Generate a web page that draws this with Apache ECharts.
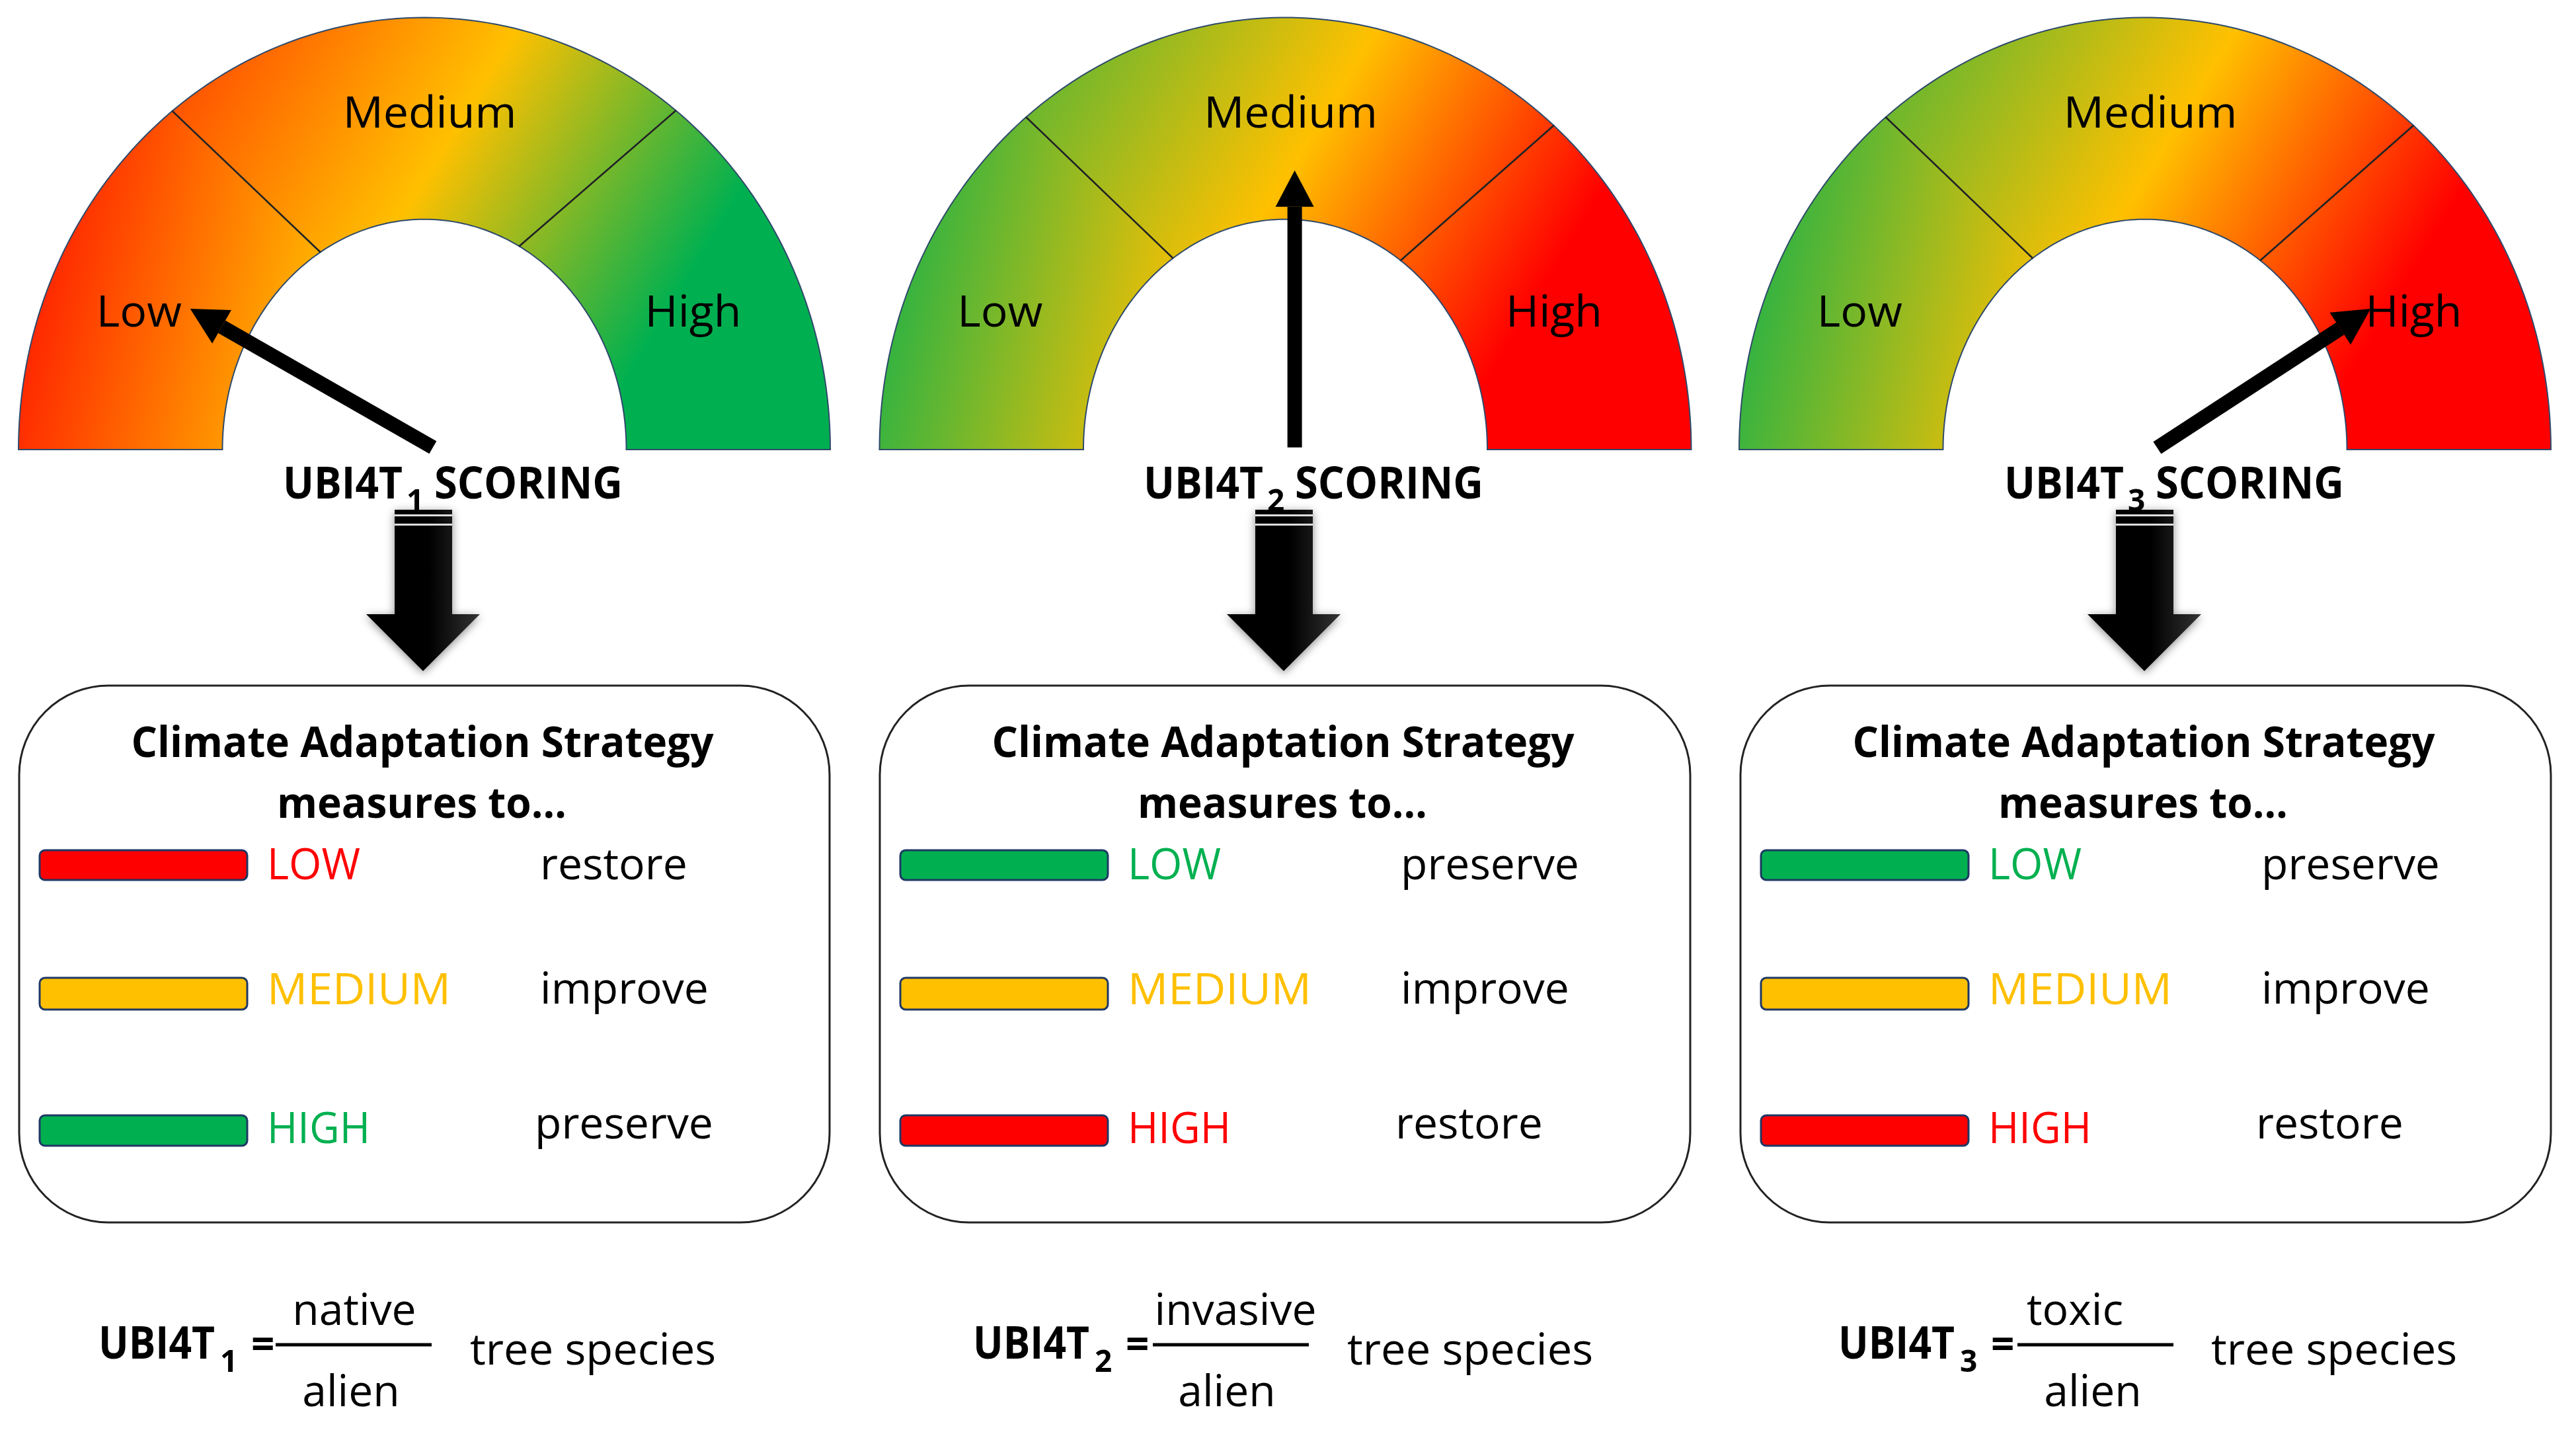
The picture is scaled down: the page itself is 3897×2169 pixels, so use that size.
<!DOCTYPE html>
<html>
<head>
<meta charset="utf-8">
<style>html,body{margin:0;padding:0;background:#fff}#chart{width:3897px;height:2169px}</style>
<script src="https://cdn.jsdelivr.net/npm/echarts@6/dist/echarts.min.js"></script>
</head>
<body>
<div id="chart"></div>
<script>
// values
const scoreLabels = ['Low', 'Medium', 'High'];
const scoreLabelX = [-0.703, 0.013, 0.662];
const scoreLabelY = [0.313, 0.774, 0.313];
// divider angles on the half-ellipse, degrees, [left, right]
const dividerOuter = [[128.4, 51.7], [129.7, 48.6], [129.7, 48.6]];
const dividerInner = [[121, 62], [123.8, 55.2], [123.8, 55.2]];
// needle tail and tip in gauge units
const needleTailX = [0.021, 0.023, 0.03];
const needleTailY = [0.005, 0.005, 0.004];
const needleTipX = [-0.577, 0.023, 0.556];
const needleTipY = [0.326, 0.646, 0.326];
const indexNames = ['UBI4T', 'UBI4T', 'UBI4T'];
const indexSubs = ['1', '2', '3'];
const strategyTiers = ['LOW', 'MEDIUM', 'HIGH'];
const measures = [
  ['restore', 'improve', 'preserve'],
  ['preserve', 'improve', 'restore'],
  ['preserve', 'improve', 'restore']
];
const numerators = ['native', 'invasive', 'toxic'];
const denominator = 'alien';

// layout and styles
const RED = '#FF0000', AMBER = '#FFC000', GREEN = '#00B050', NAVY = '#1F3864';
const measureColor = { restore: RED, improve: AMBER, preserve: GREEN };
const FONT = '"Open Sans"';
const gaugeCenter = [642, 1944.5, 3245];
const gaugeRx = 614, gaugeTop = 26.5, gaugeH = 653.5;
const innerRx = 0.4976, innerRy = 0.533;
const panelDx = [0, 1302, 2604];
const formulaLeft = [149, 1472, 2781];
const fracLeft = [417, 1744, 3052];
const numCenter = [536, 1869, 3139];
const denCenter = [531, 1856, 3166];
const treeLeft = [711, 2038, 3345];
const bandGradients = [[RED, AMBER, GREEN], [GREEN, AMBER, RED], [GREEN, AMBER, RED]];
const tierWidth = [141, 278, 156];

const chart = echarts.init(document.getElementById('chart'));
const measureCtx = document.createElement('canvas').getContext('2d');

function text(str, x, y, size, opts) {
  opts = opts || {};
  const weight = opts.bold ? 'bold' : 'normal';
  let scaleX = 1;
  if (opts.width) {
    measureCtx.font = weight + ' ' + size + 'px ' + FONT;
    scaleX = opts.width / measureCtx.measureText(str).width;
  }
  return {
    type: 'text', x: x, y: y, z: 20, scaleX: scaleX,
    style: {
      text: str, fontFamily: 'Open Sans', fontSize: size, fontWeight: weight,
      fill: opts.fill || '#000', align: opts.align || 'left', verticalAlign: 'middle'
    }
  };
}

function blockArrow(dx) {
  const points = [[597, 771], [684, 771], [684, 929], [726, 929], [640, 1015], [554, 929], [597, 929]]
    .map(function (p) { return [p[0] + dx, p[1]]; });
  return [
    {
      type: 'polygon', z: 5, shape: { points: points },
      style: {
        fill: new echarts.graphic.LinearGradient(0, 0, 1, 0, [
          { offset: 0, color: '#000' }, { offset: 0.55, color: '#000' }, { offset: 1, color: '#333' }
        ]),
        shadowBlur: 14, shadowColor: 'rgba(0,0,0,0.45)', shadowOffsetY: 3
      }
    },
    { type: 'rect', z: 6, shape: { x: 597 + dx, y: 778, width: 87, height: 3 }, style: { fill: '#ddd' } },
    { type: 'rect', z: 6, shape: { x: 597 + dx, y: 792, width: 87, height: 3 }, style: { fill: '#ddd' } }
  ];
}

const elements = [];
const swatchY = [1286, 1479, 1687];
const swatchH = [45, 48, 46];
const tierY = [1311, 1500, 1710];
const measureY = [1311, 1499, 1703];
const measureX = [817, 817, 809];

indexNames.forEach(function (name, p) {
  const dx = panelDx[p];
  // scoring caption
  elements.push(text(name, 428 + dx, 735, 66, { bold: true, width: 181 }));
  elements.push(text(indexSubs[p], 615 + dx, 760, 46, { bold: true }));
  elements.push(text('SCORING', 657 + dx, 735, 66, { bold: true, width: 285 }));
  blockArrow(dx).forEach(function (el) { elements.push(el); });

  // strategy box
  elements.push({
    type: 'rect', z: 1,
    shape: { x: 29 + dx, y: 1037, width: 1226, height: 812, r: 135 },
    style: { fill: '#fff', stroke: '#222', lineWidth: 3 }
  });
  elements.push(text('Climate Adaptation Strategy', 639 + dx, 1127, 64, { bold: true, align: 'center', width: 881 }));
  elements.push(text('measures to…', 638 + dx, 1219, 64, { bold: true, align: 'center', width: 438 }));
  strategyTiers.forEach(function (tier, i) {
    const m = measures[p][i];
    elements.push({
      type: 'rect', z: 3,
      shape: { x: 60 + dx, y: swatchY[i], width: 314, height: swatchH[i], r: 8 },
      style: { fill: measureColor[m], stroke: NAVY, lineWidth: 3 }
    });
    elements.push(text(tier, 404 + dx, tierY[i], 66, { fill: measureColor[m], width: tierWidth[i] }));
    elements.push(text(m, measureX[i] + dx, measureY[i], 66));
  });

  // formula under the box
  const fl = formulaLeft[p];
  elements.push(text(name, fl, 2036, 68, { bold: true, width: 176 }));
  elements.push(text(indexSubs[p], fl + 184, 2062, 46, { bold: true }));
  elements.push(text('=', fl + 231, 2037, 62, { bold: true }));
  elements.push({
    type: 'line', z: 3,
    shape: { x1: fracLeft[p], y1: 2034, x2: fracLeft[p] + 236, y2: 2034 },
    style: { stroke: '#000', lineWidth: 5 }
  });
  elements.push(text(numerators[p], numCenter[p], 1985, 66, { align: 'center' }));
  elements.push(text(denominator, denCenter[p], 2108, 66, { align: 'center' }));
  elements.push(text('tree species', treeLeft[p], 2045, 66, { width: 372 }));
});

function ellipsePoints(api, rx, ry, a0, a1) {
  const pts = [];
  const n = 60;
  for (let i = 0; i <= n; i++) {
    const t = (a0 + (a1 - a0) * i / n) * Math.PI / 180;
    pts.push(api.coord([rx * Math.cos(t), ry * Math.sin(t)]));
  }
  return pts;
}

// the picture's colour contours are steeper on the left band than further right
function bandFill(c, g, i) {
  const colors = bandGradients[g];
  if (i === 0) {
    return new echarts.graphic.LinearGradient(c[0] - 748, c[1] - 29, c[0] - 210, c[1] + 101, [
      { offset: 0, color: colors[0] }, { offset: 1, color: colors[1] }
    ], true);
  }
  const px = c[0], py = c[1] - 447;
  return new echarts.graphic.LinearGradient(px - 556, py - 340, px + 374, py + 229, [
    { offset: 0, color: colors[0] },
    { offset: 0.616, color: colors[1] },
    { offset: 1, color: colors[2] }
  ], true);
}

const grid = [], xAxis = [], yAxis = [], series = [];
gaugeCenter.forEach(function (cx, g) {
  grid.push({ left: cx - gaugeRx, width: gaugeRx * 2, top: gaugeTop, height: gaugeH });
  xAxis.push({ type: 'value', gridIndex: g, min: -1, max: 1, show: false });
  yAxis.push({ type: 'value', gridIndex: g, min: 0, max: 1, show: false });

  const outerEdges = [180].concat(dividerOuter[g], [0]);
  const innerEdges = [180].concat(dividerInner[g], [0]);
  const axes = { xAxisIndex: g, yAxisIndex: g, coordinateSystem: 'cartesian2d', clip: false, silent: true };

  series.push(Object.assign({
    type: 'custom', z: 2,
    data: scoreLabels.map(function (_, i) { return [i]; }),
    encode: { x: 0 },
    renderItem: function (params, api) {
      const i = api.value(0);
      const pts = ellipsePoints(api, 1, 1, outerEdges[i], outerEdges[i + 1])
        .concat(ellipsePoints(api, innerRx, innerRy, innerEdges[i + 1], innerEdges[i]));
      return {
        type: 'polygon', shape: { points: pts },
        style: { fill: bandFill(api.coord([0, 0]), g, i), stroke: '#2F4A6B', lineWidth: 2 }
      };
    }
  }, axes));

  series.push(Object.assign({
    type: 'custom', z: 3,
    data: [[0], [1]],
    encode: { x: 0 },
    renderItem: function (params, api) {
      const i = api.value(0);
      const a = dividerOuter[g][i] * Math.PI / 180, b = dividerInner[g][i] * Math.PI / 180;
      const p0 = api.coord([Math.cos(a), Math.sin(a)]);
      const p1 = api.coord([innerRx * Math.cos(b), innerRy * Math.sin(b)]);
      return {
        type: 'line', shape: { x1: p0[0], y1: p0[1], x2: p1[0], y2: p1[1] },
        style: { stroke: '#222', lineWidth: 2.5 }
      };
    }
  }, axes));

  series.push(Object.assign({
    type: 'custom', z: 4,
    data: scoreLabels.map(function (_, i) { return [scoreLabelX[i], scoreLabelY[i], i]; }),
    encode: { x: 0, y: 1 },
    renderItem: function (params, api) {
      const p = api.coord([api.value(0), api.value(1)]);
      return {
        type: 'text', x: p[0], y: p[1], scaleX: 1.03,
        style: {
          text: scoreLabels[api.value(2)], fontFamily: 'Open Sans', fontSize: 66,
          fill: '#000', align: 'center', verticalAlign: 'middle'
        }
      };
    }
  }, axes));

  series.push(Object.assign({
    type: 'custom', z: 5,
    data: [[needleTailX[g], needleTailY[g], needleTipX[g], needleTipY[g]]],
    encode: { x: [0, 2], y: [1, 3] },
    renderItem: function (params, api) {
      const a = api.coord([api.value(0), api.value(1)]);
      const b = api.coord([api.value(2), api.value(3)]);
      const len = Math.hypot(b[0] - a[0], b[1] - a[1]);
      const ux = (b[0] - a[0]) / len, uy = (b[1] - a[1]) / len;
      const headLen = 55, headHalf = 29;
      const n = [b[0] - ux * headLen, b[1] - uy * headLen];
      return {
        type: 'group',
        children: [
          {
            type: 'line', shape: { x1: a[0], y1: a[1], x2: n[0], y2: n[1] },
            style: { stroke: '#000', lineWidth: 22 }
          },
          {
            type: 'polygon',
            shape: { points: [b, [n[0] - uy * headHalf, n[1] + ux * headHalf], [n[0] + uy * headHalf, n[1] - ux * headHalf]] },
            style: { fill: '#000' }
          }
        ]
      };
    }
  }, axes));
});

chart.setOption({
  animation: false,
  backgroundColor: '#fff',
  grid: grid,
  xAxis: xAxis,
  yAxis: yAxis,
  series: series,
  graphic: { elements: elements }
});
</script>
</body>
</html>
